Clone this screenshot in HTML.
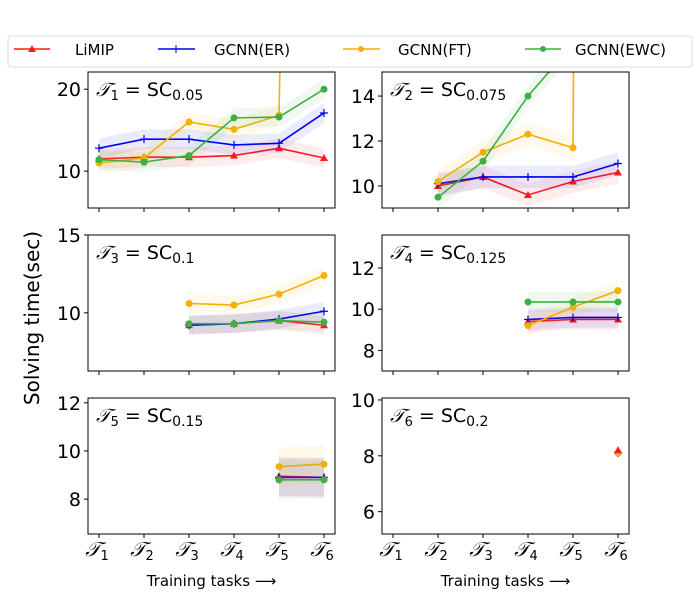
<!DOCTYPE html>
<html><head><meta charset="utf-8">
<style>
body{margin:0;background:#fff;}
svg text{font-family:"DejaVu Sans","Liberation Sans",sans-serif;}
</style></head>
<body>
<svg id="fig" width="700" height="600" viewBox="0 0 700 600" xmlns="http://www.w3.org/2000/svg">
  <g>
    <rect x="8" y="36" width="684" height="31" rx="3" fill="#fff" stroke="#ddd"/>
    <g>
      <line x1="14" y1="49" x2="50" y2="49" stroke="#ff1a1a" stroke-width="1.5"/>
      <polygon points="32,45 36,52 28,52" fill="#ff1a1a"/>
      <text x="75" y="55" font-size="15">LiMIP</text></g>
    <g>
      <line x1="158" y1="49" x2="195" y2="49" stroke="#0000ee" stroke-width="1.5"/>
      <path d="M176,45 v8 M172,49 h8" stroke="#0000ee"/>
      <text x="214" y="55" font-size="15">GCNN(ER)</text></g>
    <g>
      <line x1="343" y1="49" x2="380" y2="49" stroke="#f5b000" stroke-width="1.5"/>
      <circle cx="361" cy="49" r="3" fill="#f5b000"/>
      <text x="398" y="55" font-size="15">GCNN(FT)</text></g>
    <g>
      <line x1="525" y1="49" x2="561" y2="49" stroke="#3cb043" stroke-width="1.5"/>
      <circle cx="543" cy="49" r="3" fill="#3cb043"/>
      <text x="575" y="55" font-size="15">GCNN(EWC)</text></g>
  </g>
  <text transform="translate(39,318) rotate(-90)" text-anchor="middle" font-size="20">Solving time(sec)</text>
  <g id="panels"></g>
</svg>
<script>
// Data (tasks 1..6; null = not evaluated)
const taskLabels = ["1","2","3","4","5","6"];
const panelTitles = ["1|0.05","2|0.075","3|0.1","4|0.125","5|0.15","6|0.2"];
const limip = [
  [11.5,11.7,11.7,11.9,12.8,11.6],
  [null,10.0,10.4,9.6,10.2,10.6],
  [null,null,9.2,9.3,9.5,9.2],
  [null,null,null,9.4,9.5,9.5],
  [null,null,null,null,8.95,8.9],
  [null,null,null,null,null,8.2]];
const gcnnER = [
  [12.8,13.9,13.9,13.2,13.4,17.1],
  [null,10.1,10.4,10.4,10.4,11.0],
  [null,null,9.2,9.3,9.6,10.1],
  [null,null,null,9.5,9.6,9.6],
  [null,null,null,null,8.9,8.9],
  [null,null,null,null,null,8.1]];
const gcnnFT = [
  [11.0,11.6,16.0,15.1,16.8,300],
  [null,10.2,11.5,12.3,11.7,300],
  [null,null,10.6,10.5,11.2,12.4],
  [null,null,null,9.2,10.1,10.9],
  [null,null,null,null,9.35,9.45],
  [null,null,null,null,null,8.1]];
const gcnnEWC = [
  [11.4,11.1,11.9,16.5,16.6,20.0],
  [null,9.5,11.1,14.0,16.3,18.5],
  [null,null,9.3,9.3,9.5,9.4],
  [null,null,null,10.35,10.35,10.35],
  [null,null,null,null,8.8,8.8],
  [null,null,null,null,null,8.1]];
const yTicks = [[10,20],[10,12,14],[10,15],[8,10,12],[8,10,12],[6,8,10]];
const yRanges = [[5.5,22.1],[9.02,15.07],[6.26,15],[7.0,13.6],[6.55,12.2],[5.2,10.07]];
const bandWidth = [1.2,0.5,0.6,0.5,0.8,0.2];

const NS="http://www.w3.org/2000/svg";
const colors=["#ff1a1a","#0000ee","#f5b000","#3cb043"];
const seriesNames=["limip","gcnn-er","gcnn-ft","gcnn-ewc"];
const allSeries=[limip,gcnnER,gcnnFT,gcnnEWC];
const boxes=[[88,72],[382,72],[88,235],[382,235],[88,398],[382,398]];
const W=247,H=136;
const root=document.getElementById("panels");
function mk(tag,attrs,parent){const e=document.createElementNS(NS,tag);for(const k in attrs)e.setAttribute(k,attrs[k]);parent.appendChild(e);return e;}

for(let p=0;p<6;p++){
  const [x0,y0]=boxes[p];
  const [ymin,ymax]=yRanges[p];
  const xs=i=>x0+11+i*(W-22)/5;
  const ys=v=>y0+H-(v-ymin)/(ymax-ymin)*H;
  const g=mk("g",{},root);
  
  
  const cid="clip"+p;
  const cp=mk("clipPath",{id:cid},g);
  mk("rect",{x:x0,y:y0,width:W,height:H},cp);
  const plot=mk("g",{"clip-path":"url(#"+cid+")"},g);
  const order = p===5 ? [1,3,2,0] : [0,1,2,3];
  order.forEach(si=>{
    const S=allSeries[si];
    const d=S[p];const pts=[];
    d.forEach((v,i)=>{if(v!==null)pts.push([i,v]);});
    if(!pts.length)return;
    const bw=bandWidth[p];
    let band="M"+pts.map(q=>xs(q[0])+","+ys(q[1]+bw)).join(" L")+" L"+pts.slice().reverse().map(q=>xs(q[0])+","+ys(q[1]-bw)).join(" L")+"Z";
    if(pts.length>1){
      const b=mk("path",{d:band,fill:colors[si],opacity:0.08},plot);
      
      
    }
    const line=mk("polyline",{points:pts.map(q=>xs(q[0])+","+ys(q[1])).join(" "),fill:"none",stroke:colors[si],"stroke-width":1.6},plot);
    
    
    pts.forEach(q=>{
      const cx=xs(q[0]),cy=ys(q[1]);let m;
      if(si===0)m=mk("polygon",{points:`${cx},${cy-4} ${cx+4},${cy+3} ${cx-4},${cy+3}`,fill:colors[si]},plot);
      else if(si===1)m=mk("path",{d:`M${cx},${cy-4}v8M${cx-4},${cy}h8`,stroke:colors[si],"stroke-width":1.2},plot);
      else m=mk("circle",{cx:cx,cy:cy,r:3.5,fill:colors[si]},plot);
      
      
    });
  });
  const fr=mk("rect",{x:x0,y:y0,width:W,height:H,fill:"none",stroke:"#000","stroke-width":1},g);
  
  
  yTicks[p].forEach(t=>{
    const y=ys(t);
    mk("line",{x1:x0-4,y1:y,x2:x0,y2:y,stroke:"#000"},g);
    const tx=mk("text",{x:x0-7,y:y+7,"text-anchor":"end","font-size":19},g);
    tx.textContent=t;
    
    
  });
  taskLabels.forEach((l,i)=>{
    mk("line",{x1:xs(i),y1:y0+H,x2:xs(i),y2:y0+H+4,stroke:"#000"},g);
    if(p>=4){
      const tx=mk("text",{x:xs(i)-2,y:556,"text-anchor":"middle","font-size":20,"font-style":"italic","font-family":"Liberation Serif, serif"},g);
      tx.textContent="\u{1D4AF}";
      
      
      const sub=mk("tspan",{"font-size":13,dy:4,"font-style":"normal","font-family":"DejaVu Sans, sans-serif"},tx);
      sub.textContent=l;
    }
  });
  const [tn,sc]=panelTitles[p].split("|");
  const tt=mk("text",{x:x0+8,y:y0+24,"font-size":19},g);
  
  
  const a=mk("tspan",{"font-style":"italic","font-family":"Liberation Serif, serif"},tt);a.textContent="\u{1D4AF}";
  const b=mk("tspan",{"font-size":13,dy:4},tt);b.textContent=tn;
  const c=mk("tspan",{dy:-4},tt);c.textContent=" = SC";
  const d2=mk("tspan",{"font-size":14,dy:4},tt);d2.textContent=sc;
  if(p>=4){
    const xl=mk("text",{x:x0+W/2,y:586,"text-anchor":"middle","font-size":15},g);
    xl.textContent="Training tasks \u27F6";
    
    
  }
}
</script>
</body></html>
